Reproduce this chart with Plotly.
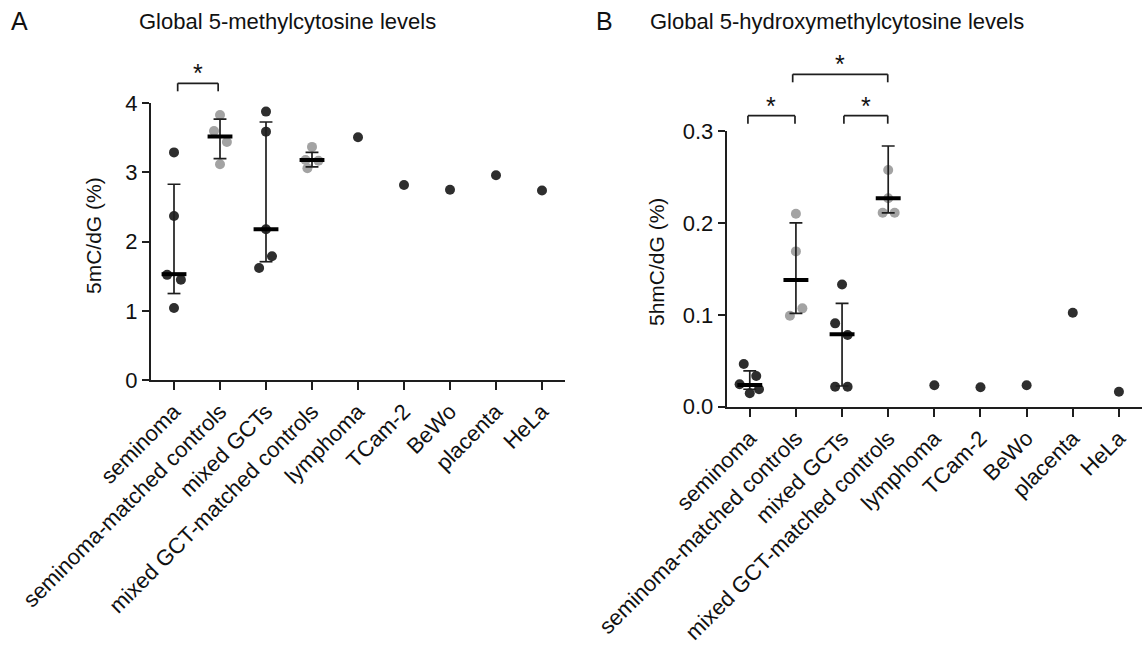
import plotly.graph_objects as go

# ---------------- data ----------------
categories = ["seminoma", "seminoma-matched controls", "mixed GCTs",
              "mixed GCT-matched controls", "lymphoma", "TCam-2", "BeWo",
              "placenta", "HeLa"]

# Panel A: 5mC/dG (%)
a_seminoma = [3.29, 2.37, 1.52, 1.45, 1.04]
a_sem_ctrl = [3.83, 3.60, 3.44, 3.12]
a_mixed = [3.88, 3.59, 2.18, 1.79, 1.62]
a_mixed_ctrl = [3.37, 3.18, 3.17, 3.06]
a_single = [3.51, 2.82, 2.75, 2.96, 2.74]   # lymphoma, TCam-2, BeWo, placenta, HeLa
a_median = [1.53, 3.52, 2.18, 3.18]
a_q1 = [1.25, 3.20, 1.71, 3.08]
a_q3 = [2.83, 3.77, 3.73, 3.29]

# Panel B: 5hmC/dG (%)
b_seminoma = [0.0465, 0.0334, 0.0244, 0.0190, 0.0146]
b_sem_ctrl = [0.210, 0.169, 0.107, 0.099]
b_mixed = [0.133, 0.0907, 0.078, 0.0218, 0.0218]
b_mixed_ctrl = [0.2576, 0.2268, 0.211, 0.211]
b_single = [0.0234, 0.0211, 0.0233, 0.1023, 0.0163]
b_median = [0.0236, 0.138, 0.0788, 0.2268]
b_q1 = [0.019, 0.1016, 0.0225, 0.211]
b_q3 = [0.039, 0.200, 0.1125, 0.2837]

# horizontal jitter of points (category units)
a_jit = [[0, 0, -0.15, 0.15, 0], [0, -0.13, 0.15, 0],
         [0, 0, 0, 0.13, -0.15], [0, -0.14, 0.14, -0.1]]
b_jit = [[-0.13, 0.14, -0.22, 0.2, 0], [0, 0, 0.14, -0.13],
         [0, -0.15, 0.12, -0.15, 0.12], [0, 0, -0.12, 0.14]]

DARK = "#2e2e2e"
LIGHT = "#a3a3a3"
LINE = "#1e1e1e"
FONT = "Liberation Sans, Arial, sans-serif"

fig = go.Figure()


def add_panel(groups, jit, single, med, q1, q3, xa, ya):
    colors = [DARK, LIGHT, DARK, LIGHT]
    for gi, vals in enumerate(groups):
        fig.add_trace(go.Scatter(
            x=[gi + j for j in jit[gi]], y=vals, mode="markers",
            marker=dict(size=10, color=colors[gi]), cliponaxis=False,
            xaxis=xa, yaxis=ya, showlegend=False, hoverinfo="y"))
    fig.add_trace(go.Scatter(
        x=list(range(4, 4 + len(single))), y=single, mode="markers",
        marker=dict(size=10, color=DARK), cliponaxis=False,
        xaxis=xa, yaxis=ya, showlegend=False, hoverinfo="y"))
    # error bars (IQR) with caps
    ex, ey = [], []
    cap = 0.14
    for i in range(len(med)):
        ex += [i, i, None, i - cap, i + cap, None, i - cap, i + cap, None]
        ey += [q1[i], q3[i], None, q1[i], q1[i], None, q3[i], q3[i], None]
    fig.add_trace(go.Scatter(x=ex, y=ey, mode="lines",
                             line=dict(color=LINE, width=1.7),
                             xaxis=xa, yaxis=ya, showlegend=False,
                             hoverinfo="skip"))
    # median lines
    mx, my = [], []
    half = 0.27
    for i in range(len(med)):
        mx += [i - half, i + half, None]
        my += [med[i], med[i], None]
    fig.add_trace(go.Scatter(x=mx, y=my, mode="lines",
                             line=dict(color="#000000", width=4),
                             xaxis=xa, yaxis=ya, showlegend=False,
                             hoverinfo="skip"))


add_panel([a_seminoma, a_sem_ctrl, a_mixed, a_mixed_ctrl], a_jit, a_single,
          a_median, a_q1, a_q3, "x", "y")
add_panel([b_seminoma, b_sem_ctrl, b_mixed, b_mixed_ctrl], b_jit, b_single,
          b_median, b_q1, b_q3, "x2", "y2")

axis_common = dict(showline=True, linecolor=LINE, linewidth=2, ticks="outside",
                   ticklen=8, tickwidth=2, tickcolor=LINE, showgrid=False,
                   zeroline=False, automargin=False,
                   tickfont=dict(family=FONT, size=22, color="#111"))
xcommon = dict(axis_common, tickmode="array", tickvals=list(range(len(categories))),
               ticktext=categories, tickangle=-45, range=[-0.5, 8.5],
               tickfont=dict(family=FONT, size=22, color="#111"))

W, H = 1142, 648
fig.update_layout(
    width=W, height=H, autosize=False,
    margin=dict(l=0, r=0, t=0, b=0, autoexpand=False),
    plot_bgcolor="white", paper_bgcolor="white",
    xaxis=dict(xcommon, domain=[151 / W, 565 / W], anchor="y"),
    yaxis=dict(axis_common, domain=[1 - 380 / H, 1 - 103.3 / H], range=[0, 4],
               tickvals=[0, 1, 2, 3, 4], ticklen=7, anchor="x"),
    xaxis2=dict(xcommon, domain=[726.7 / W, 1.0], anchor="y2"),
    yaxis2=dict(axis_common, domain=[1 - 406.7 / H, 1 - 131 / H], range=[0, 0.3],
                tickvals=[0, 0.1, 0.2, 0.3], tickformat=".1f", ticklen=7, anchor="x2"),
)

# significance brackets (x in category units, y in paper coords)
brackets = [("x", 0.08, 0.96, 83.3), ("x2", -0.04, 0.98, 115.7),
            ("x2", 0.93, 2.99, 74.3), ("x2", 2.04, 2.99, 115.7)]
for xr, x0, x1, ypx in brackets:
    yb = 1 - ypx / H
    yt = 1 - (ypx + 8) / H
    for (sx0, sy0, sx1, sy1) in [(x0, yb, x1, yb), (x0, yb, x0, yt), (x1, yb, x1, yt)]:
        fig.add_shape(type="line", xref=xr, yref="paper", x0=sx0, x1=sx1,
                      y0=sy0, y1=sy1, line=dict(color=LINE, width=1.7))
    fig.add_annotation(xref=xr, yref="paper", x=(x0 + x1) / 2, y=yb - 6 / H,
                       text="*", showarrow=False, yanchor="bottom",
                       font=dict(family=FONT, size=25, color="#111"))

# titles, panel letters, axis titles
texts = [
    (19 / W, 1 - 21 / H, "A", 25, 0),
    (604 / W, 1 - 21 / H, "B", 25, 0),
    (287 / W, 1 - 21 / H, "Global 5-methylcytosine levels", 22, 0),
    (837 / W, 1 - 21 / H, "Global 5-hydroxymethylcytosine levels", 22, 0),
    (93 / W, 1 - 236 / H, "5mC/dG (%)", 21, -90),
    (656 / W, 1 - 262 / H, "5hmC/dG (%)", 21, -90),
]
for x, y, t, s, ang in texts:
    fig.add_annotation(xref="paper", yref="paper", x=x, y=y, text=t,
                       showarrow=False, textangle=ang, xanchor="center",
                       yanchor="middle", font=dict(family=FONT, size=s, color="#111"))

fig.write_html("out.html")
